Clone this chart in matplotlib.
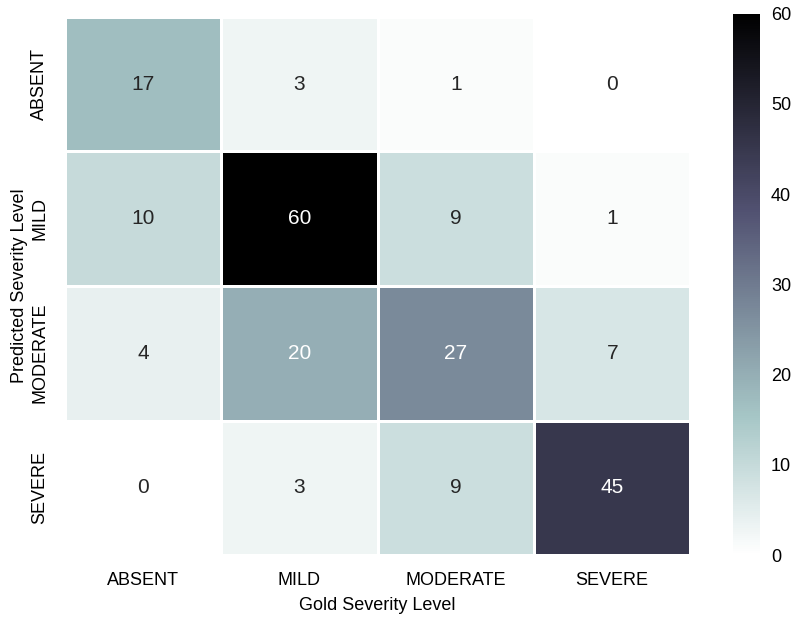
import matplotlib
matplotlib.use('Agg')
import matplotlib.pyplot as plt
import numpy as np
import seaborn as sns

plt.rcParams['font.family'] = ['Liberation Sans', 'DejaVu Sans']

levels = ['ABSENT', 'MILD', 'MODERATE', 'SEVERE']
# rows = predicted, cols = gold
counts = np.array([[17, 3, 1, 0],
                   [10, 60, 9, 1],
                   [4, 20, 27, 7],
                   [0, 3, 9, 45]])

fig = plt.figure(figsize=(8, 6.23), dpi=100)
ax = fig.add_axes([0.081, 0.109, 0.782, 0.864])
cax = fig.add_axes([0.916, 0.109, 0.034, 0.869])

sns.heatmap(counts, ax=ax, cbar_ax=cax, cmap='bone_r', vmin=0, vmax=60,
            annot=True, fmt='d', annot_kws={'size': 15},
            linewidths=1, linecolor='white',
            xticklabels=levels, yticklabels=levels)

ax.tick_params(axis='both', length=0, labelsize=13, pad=12)
plt.setp(ax.get_yticklabels(), rotation=90, va='center')
ax.set_xlabel('Gold Severity Level', fontsize=13, labelpad=6)
ax.set_ylabel('Predicted Severity Level', fontsize=13, labelpad=2)
cax.tick_params(length=0, labelsize=13, pad=8)
for s in cax.spines.values():
    s.set_visible(False)

fig.savefig('out.png', dpi=100)
